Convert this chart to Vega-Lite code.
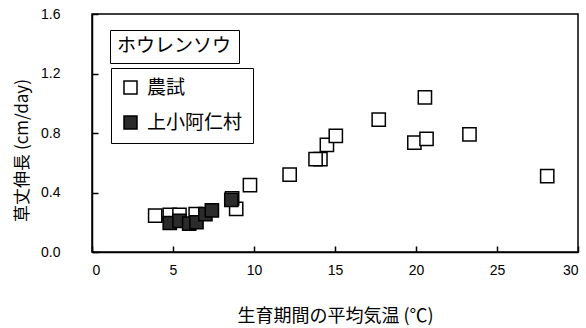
{
  "$schema": "https://vega.github.io/schema/vega-lite/v6.json",
  "width": 486,
  "height": 238,
  "autosize": "none",
  "padding": {"left": 92, "top": 14, "right": 8, "bottom": 76},
  "background": "white",
  "config": {
    "view": {"stroke": "black", "strokeWidth": 1.5},
    "axis": {
      "grid": false,
      "labelFont": "Liberation Sans",
      "labelFontSize": 14,
      "labelColor": "black",
      "titleFont": "Noto Sans CJK JP",
      "titleColor": "black",
      "titleFontWeight": "normal",
      "domainColor": "black",
      "domainWidth": 1.5,
      "tickColor": "black",
      "tickWidth": 1.5,
      "tickSize": -6
    }
  },
  "data": {
    "values": [
      {"series": "農試", "crop": "ホウレンソウ", "temp": 3.9, "growth": 0.245},
      {"series": "農試", "crop": "ホウレンソウ", "temp": 4.8, "growth": 0.25},
      {"series": "農試", "crop": "ホウレンソウ", "temp": 5.4, "growth": 0.25},
      {"series": "農試", "crop": "ホウレンソウ", "temp": 6.4, "growth": 0.255},
      {"series": "農試", "crop": "ホウレンソウ", "temp": 8.9, "growth": 0.29},
      {"series": "農試", "crop": "ホウレンソウ", "temp": 8.65, "growth": 0.36},
      {"series": "農試", "crop": "ホウレンソウ", "temp": 9.75, "growth": 0.45},
      {"series": "農試", "crop": "ホウレンソウ", "temp": 12.2, "growth": 0.52},
      {"series": "農試", "crop": "ホウレンソウ", "temp": 14.1, "growth": 0.625},
      {"series": "農試", "crop": "ホウレンソウ", "temp": 13.8, "growth": 0.625},
      {"series": "農試", "crop": "ホウレンソウ", "temp": 14.5, "growth": 0.72},
      {"series": "農試", "crop": "ホウレンソウ", "temp": 15.05, "growth": 0.78},
      {"series": "農試", "crop": "ホウレンソウ", "temp": 17.7, "growth": 0.89},
      {"series": "農試", "crop": "ホウレンソウ", "temp": 19.9, "growth": 0.735},
      {"series": "農試", "crop": "ホウレンソウ", "temp": 20.55, "growth": 1.04},
      {"series": "農試", "crop": "ホウレンソウ", "temp": 20.65, "growth": 0.76},
      {"series": "農試", "crop": "ホウレンソウ", "temp": 23.3, "growth": 0.79},
      {"series": "農試", "crop": "ホウレンソウ", "temp": 28.1, "growth": 0.51},
      {"series": "上小阿仁村", "crop": "ホウレンソウ", "temp": 4.8, "growth": 0.195},
      {"series": "上小阿仁村", "crop": "ホウレンソウ", "temp": 5.4, "growth": 0.21},
      {"series": "上小阿仁村", "crop": "ホウレンソウ", "temp": 6.0, "growth": 0.19},
      {"series": "上小阿仁村", "crop": "ホウレンソウ", "temp": 6.45, "growth": 0.2},
      {"series": "上小阿仁村", "crop": "ホウレンソウ", "temp": 7.0, "growth": 0.255},
      {"series": "上小阿仁村", "crop": "ホウレンソウ", "temp": 7.4, "growth": 0.28},
      {"series": "上小阿仁村", "crop": "ホウレンソウ", "temp": 8.6, "growth": 0.35}
    ]
  },
  "mark": {
    "type": "point",
    "shape": "square",
    "filled": true,
    "size": 175,
    "stroke": "black",
    "strokeWidth": 1.5,
    "opacity": 1
  },
  "encoding": {
    "x": {
      "field": "temp",
      "type": "quantitative",
      "scale": {"domain": [0, 30], "nice": false, "zero": false},
      "axis": {
        "values": [0, 5, 10, 15, 20, 25, 30],
        "title": "生育期間の平均気温 (℃)",
        "titleFontSize": 18,
        "labelPadding": 17,
        "titlePadding": 30
      }
    },
    "y": {
      "field": "growth",
      "type": "quantitative",
      "scale": {"domain": [0, 1.6], "nice": false},
      "axis": {
        "values": [0, 0.4, 0.8, 1.2, 1.6],
        "format": ".1f",
        "title": "草丈伸長 (cm/day)",
        "titleFontSize": 17,
        "labelPadding": 38,
        "titlePadding": 9,
        "titleY": 136
      }
    },
    "fill": {
      "field": "series",
      "type": "nominal",
      "scale": {"domain": ["農試", "上小阿仁村"], "range": ["white", "#2b2b2b"]},
      "legend": {
        "title": null,
        "orient": "none",
        "legendX": 19,
        "legendY": 54,
        "strokeColor": "black",
        "fillColor": "white",
        "padding": 10,
        "labelFont": "Noto Sans CJK JP",
        "labelFontSize": 19,
        "labelColor": "black",
        "symbolType": "square",
        "symbolSize": 169,
        "symbolOpacity": 1,
        "symbolStrokeColor": "black",
        "symbolStrokeWidth": 1.5,
        "rowPadding": 15,
        "labelOffset": 7
      }
    },
    "opacity": {
      "field": "crop",
      "type": "ordinal",
      "scale": {"range": [1]},
      "legend": {
        "title": "ホウレンソウ",
        "values": [],
        "orient": "none",
        "legendX": 18,
        "legendY": 16,
        "strokeColor": "black",
        "fillColor": "white",
        "padding": 7,
        "titleFont": "Noto Sans CJK JP",
        "titleFontSize": 19,
        "titleFontWeight": "normal",
        "titleColor": "black",
        "titlePadding": 0
      }
    }
  }
}
